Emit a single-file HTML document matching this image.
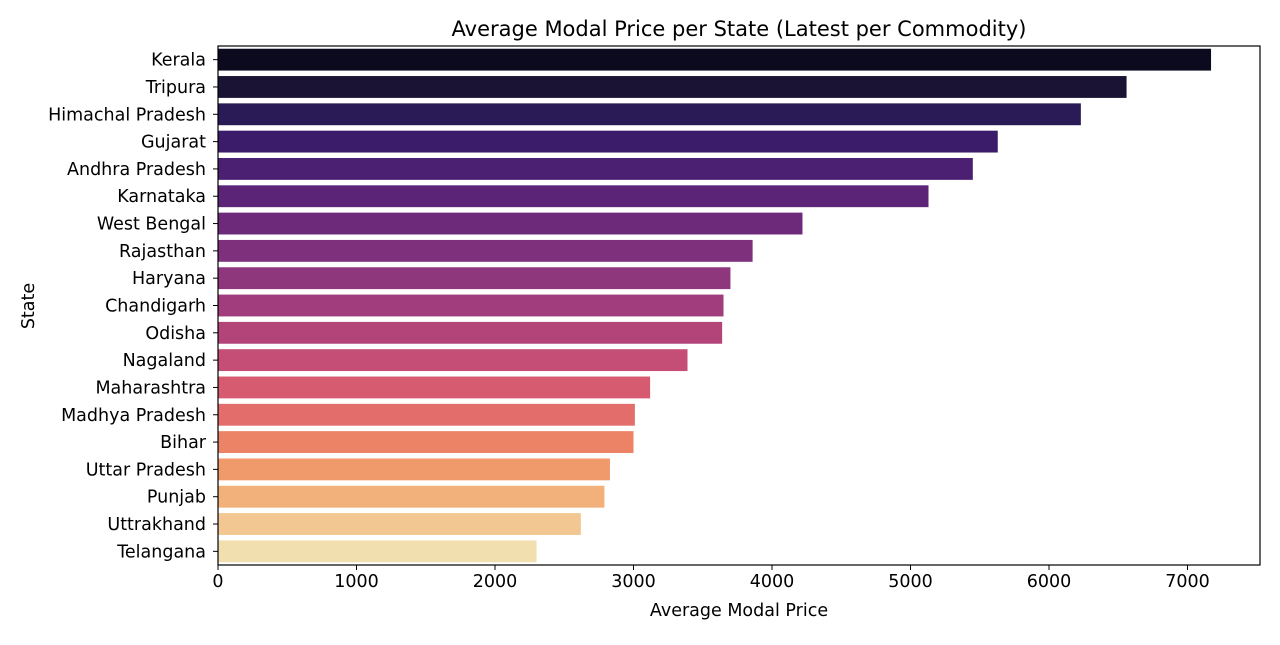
<!DOCTYPE html>
<html><head><meta charset="utf-8"><style>
body{margin:0;background:#fff;}
svg text{font-family:"DejaVu Sans","Liberation Sans",sans-serif;fill:#000;}
</style></head><body>
<svg id="chart" width="1280" height="640">
<text x="739" y="36" font-size="21" text-anchor="middle">Average Modal Price per State (Latest per Commodity)</text>
<text x="739" y="616" font-size="17.5" text-anchor="middle">Average Modal Price</text>
<text x="34" y="306" font-size="17.5" text-anchor="middle" transform="rotate(-90 34 306)">State</text>
<g id="bars"></g><g id="axes"></g>
<rect x="218" y="46" width="1042" height="519" fill="none" stroke="#000" stroke-width="1.2"/>
</svg>
<script>
const states=["Kerala","Tripura","Himachal Pradesh","Gujarat","Andhra Pradesh","Karnataka","West Bengal","Rajasthan","Haryana","Chandigarh","Odisha","Nagaland","Maharashtra","Madhya Pradesh","Bihar","Uttar Pradesh","Punjab","Uttrakhand","Telangana"];
const prices=[7170,6560,6230,5630,5450,5130,4220,3860,3700,3650,3640,3390,3120,3010,3000,2830,2790,2620,2300];
const xTicks=[0,1000,2000,3000,4000,5000,6000,7000];
const colors=['#0b0a1f','#1a1333','#2a1a55','#3b1c6b','#4b1f72','#5c2476','#6d2a7a','#7e307c','#8f377d','#a13d7c','#b3447a','#c54e76','#d65b70','#e36d6a','#ec8266','#f09a6c','#f2b07a','#f2c792','#f1dfb0'];
const ns="http://www.w3.org/2000/svg";
const X0=218,TOP=46,BOT=565;
const x=v=>X0+v*0.1385;
const step=(BOT-TOP)/states.length;
const y=i=>TOP+step*(i+0.5);
const bars=document.getElementById('bars'),axes=document.getElementById('axes');
function mk(t,a,p){const e=document.createElementNS(ns,t);for(const k in a)e.setAttribute(k,a[k]);p.appendChild(e);return e;}
states.forEach((s,i)=>{
 const r=mk('rect',{x:X0,y:y(i)-step*0.4,width:x(prices[i])-X0,height:step*0.8,fill:colors[i]},bars);
 
 
 mk('line',{x1:X0-5,x2:X0,y1:y(i),y2:y(i),stroke:'#000'},axes);
 const t=mk('text',{x:X0-12,y:y(i)+6,'font-size':17.5,'text-anchor':'end'},axes);
 t.textContent=s;
 
 
});
xTicks.forEach(v=>{
 mk('line',{x1:x(v),x2:x(v),y1:BOT,y2:BOT+5,stroke:'#000'},axes);
 const t=mk('text',{x:x(v),y:BOT+22,'font-size':17.5,'text-anchor':'middle'},axes);
 t.textContent=v;
 
 
});
</script>
</body></html>
